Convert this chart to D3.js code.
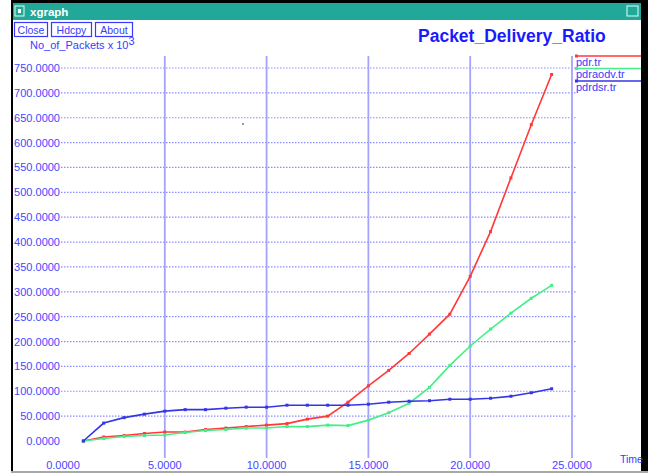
<!DOCTYPE html>
<html>
<head>
<meta charset="utf-8">
<script src="https://cdn.jsdelivr.net/npm/d3@7"></script>
<style>
  body { margin: 0; background: #fff; }
  text { font-family: "Liberation Sans", Arial, sans-serif; }
</style>
</head>
<body>
<div id="chart"></div>
<script>
/* DATA */
const times = [1, 2, 3, 4, 5, 6, 7, 8, 9, 10, 11, 12, 13, 14, 15, 16, 17, 18, 19, 20, 21, 22, 23, 24];
const pdr = [0, 8, 11, 15, 18, 18, 23, 26, 29, 32, 35, 44, 50, 78, 111, 142, 176, 215, 255, 331, 421, 529, 636, 737];
const pdraodv = [0, 5, 9, 11, 12, 17, 21, 23, 26, 26, 29, 29, 32, 31, 42, 57, 76, 108, 152, 191, 225, 257, 287, 313];
const pdrdsr = [0, 36, 47, 54, 60, 63, 63, 66, 68, 68, 72, 72, 72, 72, 74, 78, 80, 81, 84, 84, 86, 90, 97, 105];
const xTicks = [0, 5, 10, 15, 20, 25];
const yTicks = [0, 50, 100, 150, 200, 250, 300, 350, 400, 450, 500, 550, 600, 650, 700, 750];
const seriesNames = ["pdr.tr", "pdraodv.tr", "pdrdsr.tr"];
const seriesColors = ["#ff3838", "#44ee88", "#3434e8"];

const width = 648, height = 475;
const blue = "#3a3aff";

const svg = d3.select("#chart").append("svg")
  .attr("width", width)
  .attr("height", height);

// window frame
svg.append("rect").attr("x", 11).attr("y", 0).attr("width", 637).attr("height", 472).attr("fill", "#000");
svg.append("rect").attr("x", 13).attr("y", 3).attr("width", 628).attr("height", 469).attr("fill", "#fff");
svg.append("rect").attr("x", 11).attr("y", 471).attr("width", 637).attr("height", 2).attr("fill", "#a8a8a8");

// title bar
svg.append("rect").attr("x", 13).attr("y", 3).attr("width", 628).attr("height", 17).attr("fill", "#22a898");
svg.append("rect").attr("x", 15).attr("y", 6).attr("width", 9).attr("height", 10)
  .attr("fill", "none").attr("stroke", "#dff").attr("stroke-width", 1);
svg.append("rect").attr("x", 18).attr("y", 9).attr("width", 3).attr("height", 4).attr("fill", "#fff");
svg.append("text").attr("x", 30).attr("y", 16).attr("fill", "#fff")
  .attr("font-size", 11.5).attr("font-weight", "bold").text("xgraph");
svg.append("rect").attr("x", 627).attr("y", 6).attr("width", 11).attr("height", 10)
  .attr("fill", "none").attr("stroke", "#dff").attr("stroke-width", 1);

// buttons
const buttons = [["Close", 14, 33], ["Hdcpy", 51, 40], ["About", 95, 37]];
buttons.forEach(b => {
  svg.append("rect").attr("x", b[1] + 0.5).attr("y", 22.5).attr("width", b[2]).attr("height", 14)
    .attr("fill", "#fff").attr("stroke", blue).attr("stroke-width", 1.2);
  svg.append("text").attr("x", b[1] + b[2] / 2 + 0.5).attr("y", 33.5).attr("text-anchor", "middle")
    .attr("fill", blue).attr("font-size", 10.5).text(b[0]);
});

// titles
svg.append("text").attr("x", 418).attr("y", 42).attr("fill", "#1a1aff")
  .attr("font-size", 17.5).attr("font-weight", "bold").text("Packet_Delivery_Ratio");
const yl = svg.append("text").attr("x", 30).attr("y", 48.5).attr("fill", blue).attr("font-size", 11);
yl.append("tspan").text("No_of_Packets x 10");
yl.append("tspan").attr("dy", -4).attr("font-size", 11).text("3");

/* SCALES */
const xScale = d3.scaleLinear().domain([0, 25]).range([63, 572]);
const yScale = d3.scaleLinear().domain([0, 750]).range([441, 68]);

// horizontal dotted grid
svg.append("g").selectAll("line")
  .data(yTicks.slice(1))
  .join("line")
  .attr("x1", 61).attr("x2", 577)
  .attr("y1", d => yScale(d)).attr("y2", d => yScale(d))
  .attr("stroke", "#8c8cff").attr("stroke-width", 1.2).attr("stroke-dasharray", "1.5,1.5");

// vertical grid
svg.append("g").selectAll("line")
  .data(xTicks.slice(1))
  .join("line")
  .attr("x1", d => xScale(d)).attr("x2", d => xScale(d))
  .attr("y1", 56).attr("y2", 458)
  .attr("stroke", "#a4a4ff").attr("stroke-width", 1.8);

// y tick labels
svg.append("g").selectAll("text")
  .data(yTicks)
  .join("text")
  .attr("x", 60).attr("y", d => yScale(d) + 4)
  .attr("text-anchor", "end")
  .attr("fill", "#4646ff").attr("font-size", 11)
  .text(d => d3.format(".4f")(d));

// x tick labels
svg.append("g").selectAll("text")
  .data(xTicks)
  .join("text")
  .attr("x", d => xScale(d)).attr("y", 468.5)
  .attr("text-anchor", "middle")
  .attr("fill", "#4646ff").attr("font-size", 11)
  .text(d => d3.format(".4f")(d));

svg.append("text").attr("x", 620).attr("y", 463).attr("fill", blue).attr("font-size", 10.5).text("Time");

/* SERIES */
const allSeries = [pdr, pdraodv, pdrdsr];
const line = d3.line().x(d => xScale(d[0])).y(d => yScale(d[1]));

allSeries.forEach((vals, i) => {
  const pts = times.map((t, j) => [t, vals[j]]);
  svg.append("path")
    .datum(pts)
    .attr("fill", "none")
    .attr("stroke", seriesColors[i])
    .attr("stroke-width", 1.6)
    .attr("d", line);
  svg.append("g").selectAll("rect")
    .data(pts)
    .join("rect")
    .attr("x", d => xScale(d[0]) - 1.5).attr("y", d => yScale(d[1]) - 1.5)
    .attr("width", 3).attr("height", 3)
    .attr("fill", seriesColors[i]);
});

/* LEGEND */
seriesNames.forEach((name, i) => {
  const ly = 56 + i * 12.5;
  svg.append("line").attr("x1", 575).attr("x2", 641).attr("y1", ly).attr("y2", ly)
    .attr("stroke", seriesColors[i]).attr("stroke-width", 1.6);
  svg.append("rect").attr("x", 575).attr("y", ly - 1.5).attr("width", 3).attr("height", 3)
    .attr("fill", seriesColors[i]);
  svg.append("text").attr("x", 576).attr("y", ly + 9.5).attr("fill", blue)
    .attr("font-size", 11).text(name);
});

// stray speck in the original screenshot
svg.append("rect").attr("x", 242).attr("y", 123).attr("width", 2).attr("height", 2).attr("fill", "#999");
</script>
</body>
</html>
